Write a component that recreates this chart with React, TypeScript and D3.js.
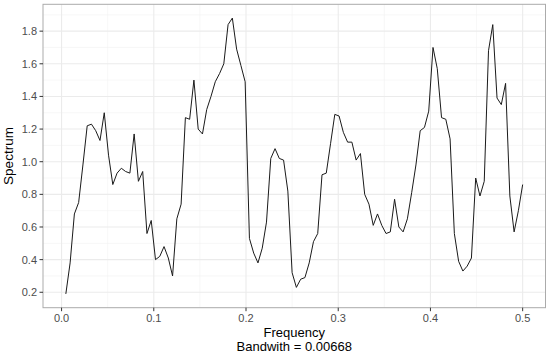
import * as d3 from "d3";

// periodogram values, one per Fourier frequency k/216
const spectrum = [
  0.19, 0.38, 0.68, 0.75, 0.98, 1.22, 1.23, 1.19, 1.13, 1.30,
  1.04, 0.86, 0.93, 0.96, 0.94, 0.93, 1.17, 0.88, 0.94, 0.56,
  0.64, 0.40, 0.42, 0.48, 0.41, 0.30, 0.65, 0.74, 1.27, 1.26,
  1.50, 1.20, 1.17, 1.32, 1.40, 1.49, 1.54, 1.60, 1.84, 1.88,
  1.69, 1.59, 1.49, 0.53, 0.44, 0.38, 0.47, 0.63, 1.02, 1.08,
  1.02, 1.01, 0.82, 0.32, 0.23, 0.28, 0.29, 0.38, 0.51, 0.56,
  0.92, 0.93, 1.11, 1.29, 1.28, 1.18, 1.12, 1.12, 1.01, 1.05,
  0.80, 0.74, 0.61, 0.68, 0.61, 0.56, 0.57, 0.77, 0.60, 0.57,
  0.65, 0.81, 0.98, 1.19, 1.21, 1.31, 1.70, 1.57, 1.27, 1.26,
  1.14, 0.56, 0.39, 0.33, 0.36, 0.41, 0.90, 0.79, 0.88, 1.68,
  1.84, 1.39, 1.35, 1.48, 0.79, 0.57, 0.70, 0.86,
];
const nPad = 216;
const freq = spectrum.map((_, i) => (i + 1) / nPad);

const xTicks = [0, 0.1, 0.2, 0.3, 0.4, 0.5];
const yTicks = [0.2, 0.4, 0.6, 0.8, 1.0, 1.2, 1.4, 1.6, 1.8];
const xMinor = [0.05, 0.15, 0.25, 0.35, 0.45];
const yMinor = [0.3, 0.5, 0.7, 0.9, 1.1, 1.3, 1.5, 1.7, 1.9];

const xTitle = "Frequency";
const xSub = "Bandwith = 0.00668";
const yTitle = "Spectrum";

const W = 550;
const H = 353;
const panel = { left: 43, right: 545.5, top: 4.3, bottom: 307.7 };
const font = "'Liberation Sans', Arial, sans-serif";

function expand([a, b]: [number, number]): [number, number] {
  const d = (b - a) * 0.05;
  return [a - d, b + d];
}

export default function App() {
  const x = d3
    .scaleLinear()
    .domain(expand(d3.extent(freq) as [number, number]))
    .range([panel.left, panel.right]);
  const y = d3
    .scaleLinear()
    .domain(expand(d3.extent(spectrum) as [number, number]))
    .range([panel.bottom, panel.top]);

  const line = d3
    .line<number>()
    .x((_, i) => x(freq[i]))
    .y((d) => y(d));

  const midX = (panel.left + panel.right) / 2;
  const midY = (panel.top + panel.bottom) / 2;

  return (
    <svg
      width={W}
      height={H}
      style={{ position: "absolute", left: 0, top: 0, background: "#fff" }}
      fontFamily={font}
    >
      <rect x={panel.left} y={panel.top} width={panel.right - panel.left}
        height={panel.bottom - panel.top} fill="#fff" />
      {/* minor grid */}
      {xMinor.map((t) => (
        <line key={"xm" + t} x1={x(t)} x2={x(t)} y1={panel.top} y2={panel.bottom}
          stroke="#f2f2f2" strokeWidth={0.6} />
      ))}
      {yMinor.filter((t) => y(t) > panel.top).map((t) => (
        <line key={"ym" + t} x1={panel.left} x2={panel.right} y1={y(t)} y2={y(t)}
          stroke="#f2f2f2" strokeWidth={0.6} />
      ))}
      {/* major grid */}
      {xTicks.map((t) => (
        <line key={"xg" + t} x1={x(t)} x2={x(t)} y1={panel.top} y2={panel.bottom}
          stroke="#ebebeb" strokeWidth={1.1} />
      ))}
      {yTicks.map((t) => (
        <line key={"yg" + t} x1={panel.left} x2={panel.right} y1={y(t)} y2={y(t)}
          stroke="#ebebeb" strokeWidth={1.1} />
      ))}

      <path d={line(spectrum) ?? ""} fill="none" stroke="#1a1a1a" strokeWidth={1}
        strokeLinejoin="round" />

      <rect x={panel.left} y={panel.top} width={panel.right - panel.left}
        height={panel.bottom - panel.top} fill="none" stroke="#ababab" strokeWidth={1} />

      {/* x axis */}
      {xTicks.map((t) => (
        <g key={"xt" + t}>
          <line x1={x(t)} x2={x(t)} y1={panel.bottom} y2={panel.bottom + 3.5}
            stroke="#333" strokeWidth={1} />
          <text x={x(t)} y={panel.bottom + 14.5} textAnchor="middle" fontSize={11}
            fill="#4d4d4d">{t.toFixed(1)}</text>
        </g>
      ))}
      {/* y axis */}
      {yTicks.map((t) => (
        <g key={"yt" + t}>
          <line x1={panel.left - 3.5} x2={panel.left} y1={y(t)} y2={y(t)}
            stroke="#333" strokeWidth={1} />
          <text x={panel.left - 6} y={y(t) + 4} textAnchor="end" fontSize={11}
            fill="#4d4d4d">{t.toFixed(1)}</text>
        </g>
      ))}

      <text x={midX} y={337} textAnchor="middle" fontSize={13} fill="#000">{xTitle}</text>
      <text x={midX} y={350.5} textAnchor="middle" fontSize={13} fill="#000">{xSub}</text>
      <text transform={`translate(13,${midY}) rotate(-90)`} textAnchor="middle"
        fontSize={13.5} fill="#000">{yTitle}</text>
    </svg>
  );
}
